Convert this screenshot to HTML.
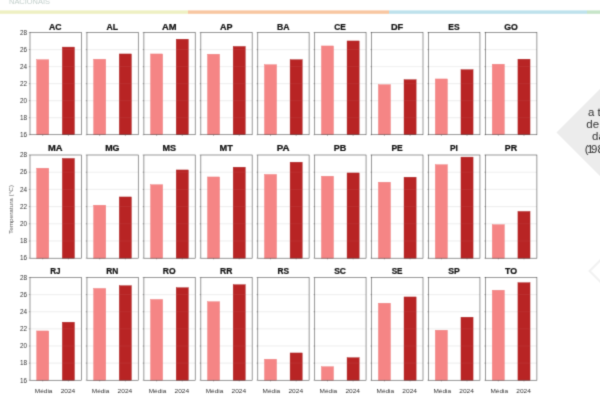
<!DOCTYPE html>
<html lang="pt-BR"><head><meta charset="utf-8"><title>Temperatura por estado</title>
<style>
html,body{margin:0;padding:0;background:#fff;}
body{width:600px;height:400px;overflow:hidden;position:relative;font-family:"Liberation Sans",sans-serif;}
svg{position:absolute;left:0;top:0;display:block;}
text{font-family:"Liberation Sans",sans-serif;}
.t{font-weight:bold;font-size:8.4px;fill:#111;text-anchor:middle;stroke:#111;stroke-width:0.22px;}
.k{font-size:6.4px;fill:#333;text-anchor:end;}
.x{font-size:6.0px;fill:#333;text-anchor:middle;}
</style></head><body>
<svg width="600" height="400" viewBox="0 0 600 400">
<defs><filter id="g" x="0" y="0" width="100%" height="100%" filterUnits="userSpaceOnUse" color-interpolation-filters="sRGB"><feConvolveMatrix order="3" kernelMatrix="0.01917 0.10012 0.01917 0.10012 0.52283 0.10012 0.01917 0.10012 0.01917" divisor="1" edgeMode="duplicate" preserveAlpha="true"/></filter><filter id="b" x="-5%" y="-200%" width="110%" height="500%"><feGaussianBlur stdDeviation="0.4"/></filter></defs>
<rect width="600" height="400" fill="#fff"/>
<g filter="url(#g)">
<rect x="-5" y="-5" width="610" height="410" fill="#fff"/>

<text x="9" y="3.7" font-size="6.6" fill="#c2cfcb" textLength="41" lengthAdjust="spacingAndGlyphs">NACIONAIS</text>
<g filter="url(#b)">
<rect x="0" y="10.4" width="188" height="3.4" fill="#eef0c2"/>
<rect x="188" y="10.4" width="201" height="3.4" fill="#f8c6a1"/>
<rect x="389" y="10.4" width="198" height="3.4" fill="#bde1ec"/>
<rect x="587" y="10.4" width="13" height="3.4" fill="#c6e4c8"/>
</g>
<polygon points="556.5,132.5 646.5,42.5 736.5,132.5 646.5,222.5" fill="#ececec"/>
<g font-size="10" fill="#333">
<text transform="translate(588,115.7) scale(1.15,1)">a temperatura</text>
<text transform="translate(586.3,127.9) scale(1.15,1)">de 2024 acima</text>
<text transform="translate(592,140.3) scale(1.15,1)">da média</text>
<text transform="translate(584.7,152.8) scale(1.15,1)" dx="0 -1.3 -2.1 0">(1981-2010)</text>
</g>
<polyline points="640,220.6 589.6,271 640,321.4" fill="none" stroke="#f1f1f1" stroke-width="2.1"/>
<text transform="translate(13.2,209.5) rotate(-90)" font-size="5.6" fill="#555" text-anchor="middle" textLength="49" lengthAdjust="spacingAndGlyphs">Temperatura (°C)</text>
<line x1="30.00" x2="81.30" y1="49.62" y2="49.62" stroke="#e7e7e7" stroke-width="0.7"/>
<line x1="30.00" x2="81.30" y1="66.65" y2="66.65" stroke="#e7e7e7" stroke-width="0.7"/>
<line x1="30.00" x2="81.30" y1="83.68" y2="83.68" stroke="#e7e7e7" stroke-width="0.7"/>
<line x1="30.00" x2="81.30" y1="100.70" y2="100.70" stroke="#e7e7e7" stroke-width="0.7"/>
<line x1="30.00" x2="81.30" y1="117.72" y2="117.72" stroke="#e7e7e7" stroke-width="0.7"/>
<rect x="36.68" y="59.70" width="12.10" height="75.05" fill="#f58585" stroke="#ec7a7a" stroke-width="0.4"/>
<rect x="62.33" y="47.10" width="12.10" height="87.65" fill="#b82424" stroke="#a81e1e" stroke-width="0.4"/>
<line x1="62.12" x2="74.62" y1="49.62" y2="49.62" stroke="#fff" stroke-opacity="0.08" stroke-width="0.7"/>
<line x1="62.12" x2="74.62" y1="66.65" y2="66.65" stroke="#fff" stroke-opacity="0.08" stroke-width="0.7"/>
<line x1="62.12" x2="74.62" y1="83.68" y2="83.68" stroke="#fff" stroke-opacity="0.08" stroke-width="0.7"/>
<line x1="62.12" x2="74.62" y1="100.70" y2="100.70" stroke="#fff" stroke-opacity="0.08" stroke-width="0.7"/>
<line x1="62.12" x2="74.62" y1="117.72" y2="117.72" stroke="#fff" stroke-opacity="0.08" stroke-width="0.7"/>
<line x1="28.80" x2="30.00" y1="32.60" y2="32.60" stroke="#444" stroke-width="0.4"/>
<line x1="28.80" x2="30.00" y1="49.62" y2="49.62" stroke="#444" stroke-width="0.4"/>
<line x1="28.80" x2="30.00" y1="66.65" y2="66.65" stroke="#444" stroke-width="0.4"/>
<line x1="28.80" x2="30.00" y1="83.68" y2="83.68" stroke="#444" stroke-width="0.4"/>
<line x1="28.80" x2="30.00" y1="100.70" y2="100.70" stroke="#444" stroke-width="0.4"/>
<line x1="28.80" x2="30.00" y1="117.72" y2="117.72" stroke="#444" stroke-width="0.4"/>
<line x1="28.80" x2="30.00" y1="134.75" y2="134.75" stroke="#444" stroke-width="0.4"/>
<line x1="42.73" x2="42.73" y1="134.75" y2="135.95" stroke="#444" stroke-width="0.4"/>
<line x1="68.38" x2="68.38" y1="134.75" y2="135.95" stroke="#444" stroke-width="0.4"/>
<rect x="30.00" y="32.60" width="51.30" height="102.15" fill="none" stroke="#484848" stroke-width="0.56"/>
<text class="t" x="55.35" y="29.70" textLength="12.55" lengthAdjust="spacingAndGlyphs">AC</text>
<text class="k" x="27.10" y="34.85">28</text>
<text class="k" x="27.10" y="51.88">26</text>
<text class="k" x="27.10" y="68.90">24</text>
<text class="k" x="27.10" y="85.93">22</text>
<text class="k" x="27.10" y="102.95">20</text>
<text class="k" x="27.10" y="119.97">18</text>
<text class="k" x="27.10" y="137.00">16</text>
<line x1="86.95" x2="138.25" y1="49.62" y2="49.62" stroke="#e7e7e7" stroke-width="0.7"/>
<line x1="86.95" x2="138.25" y1="66.65" y2="66.65" stroke="#e7e7e7" stroke-width="0.7"/>
<line x1="86.95" x2="138.25" y1="83.68" y2="83.68" stroke="#e7e7e7" stroke-width="0.7"/>
<line x1="86.95" x2="138.25" y1="100.70" y2="100.70" stroke="#e7e7e7" stroke-width="0.7"/>
<line x1="86.95" x2="138.25" y1="117.72" y2="117.72" stroke="#e7e7e7" stroke-width="0.7"/>
<rect x="93.63" y="59.20" width="12.10" height="75.55" fill="#f58585" stroke="#ec7a7a" stroke-width="0.4"/>
<rect x="119.28" y="53.95" width="12.10" height="80.80" fill="#b82424" stroke="#a81e1e" stroke-width="0.4"/>
<line x1="119.08" x2="131.57" y1="66.65" y2="66.65" stroke="#fff" stroke-opacity="0.08" stroke-width="0.7"/>
<line x1="119.08" x2="131.57" y1="83.68" y2="83.68" stroke="#fff" stroke-opacity="0.08" stroke-width="0.7"/>
<line x1="119.08" x2="131.57" y1="100.70" y2="100.70" stroke="#fff" stroke-opacity="0.08" stroke-width="0.7"/>
<line x1="119.08" x2="131.57" y1="117.72" y2="117.72" stroke="#fff" stroke-opacity="0.08" stroke-width="0.7"/>
<line x1="85.75" x2="86.95" y1="32.60" y2="32.60" stroke="#444" stroke-width="0.4"/>
<line x1="85.75" x2="86.95" y1="49.62" y2="49.62" stroke="#444" stroke-width="0.4"/>
<line x1="85.75" x2="86.95" y1="66.65" y2="66.65" stroke="#444" stroke-width="0.4"/>
<line x1="85.75" x2="86.95" y1="83.68" y2="83.68" stroke="#444" stroke-width="0.4"/>
<line x1="85.75" x2="86.95" y1="100.70" y2="100.70" stroke="#444" stroke-width="0.4"/>
<line x1="85.75" x2="86.95" y1="117.72" y2="117.72" stroke="#444" stroke-width="0.4"/>
<line x1="85.75" x2="86.95" y1="134.75" y2="134.75" stroke="#444" stroke-width="0.4"/>
<line x1="99.68" x2="99.68" y1="134.75" y2="135.95" stroke="#444" stroke-width="0.4"/>
<line x1="125.33" x2="125.33" y1="134.75" y2="135.95" stroke="#444" stroke-width="0.4"/>
<rect x="86.95" y="32.60" width="51.30" height="102.15" fill="none" stroke="#484848" stroke-width="0.56"/>
<text class="t" x="112.30" y="29.70" textLength="11.55" lengthAdjust="spacingAndGlyphs">AL</text>
<line x1="143.90" x2="195.20" y1="49.62" y2="49.62" stroke="#e7e7e7" stroke-width="0.7"/>
<line x1="143.90" x2="195.20" y1="66.65" y2="66.65" stroke="#e7e7e7" stroke-width="0.7"/>
<line x1="143.90" x2="195.20" y1="83.68" y2="83.68" stroke="#e7e7e7" stroke-width="0.7"/>
<line x1="143.90" x2="195.20" y1="100.70" y2="100.70" stroke="#e7e7e7" stroke-width="0.7"/>
<line x1="143.90" x2="195.20" y1="117.72" y2="117.72" stroke="#e7e7e7" stroke-width="0.7"/>
<rect x="150.57" y="53.95" width="12.10" height="80.80" fill="#f58585" stroke="#ec7a7a" stroke-width="0.4"/>
<rect x="176.22" y="39.20" width="12.10" height="95.55" fill="#b82424" stroke="#a81e1e" stroke-width="0.4"/>
<line x1="176.03" x2="188.53" y1="49.62" y2="49.62" stroke="#fff" stroke-opacity="0.08" stroke-width="0.7"/>
<line x1="176.03" x2="188.53" y1="66.65" y2="66.65" stroke="#fff" stroke-opacity="0.08" stroke-width="0.7"/>
<line x1="176.03" x2="188.53" y1="83.68" y2="83.68" stroke="#fff" stroke-opacity="0.08" stroke-width="0.7"/>
<line x1="176.03" x2="188.53" y1="100.70" y2="100.70" stroke="#fff" stroke-opacity="0.08" stroke-width="0.7"/>
<line x1="176.03" x2="188.53" y1="117.72" y2="117.72" stroke="#fff" stroke-opacity="0.08" stroke-width="0.7"/>
<line x1="142.70" x2="143.90" y1="32.60" y2="32.60" stroke="#444" stroke-width="0.4"/>
<line x1="142.70" x2="143.90" y1="49.62" y2="49.62" stroke="#444" stroke-width="0.4"/>
<line x1="142.70" x2="143.90" y1="66.65" y2="66.65" stroke="#444" stroke-width="0.4"/>
<line x1="142.70" x2="143.90" y1="83.68" y2="83.68" stroke="#444" stroke-width="0.4"/>
<line x1="142.70" x2="143.90" y1="100.70" y2="100.70" stroke="#444" stroke-width="0.4"/>
<line x1="142.70" x2="143.90" y1="117.72" y2="117.72" stroke="#444" stroke-width="0.4"/>
<line x1="142.70" x2="143.90" y1="134.75" y2="134.75" stroke="#444" stroke-width="0.4"/>
<line x1="156.62" x2="156.62" y1="134.75" y2="135.95" stroke="#444" stroke-width="0.4"/>
<line x1="182.28" x2="182.28" y1="134.75" y2="135.95" stroke="#444" stroke-width="0.4"/>
<rect x="143.90" y="32.60" width="51.30" height="102.15" fill="none" stroke="#484848" stroke-width="0.56"/>
<text class="t" x="169.25" y="29.70" textLength="14.55" lengthAdjust="spacingAndGlyphs">AM</text>
<line x1="200.85" x2="252.15" y1="49.62" y2="49.62" stroke="#e7e7e7" stroke-width="0.7"/>
<line x1="200.85" x2="252.15" y1="66.65" y2="66.65" stroke="#e7e7e7" stroke-width="0.7"/>
<line x1="200.85" x2="252.15" y1="83.68" y2="83.68" stroke="#e7e7e7" stroke-width="0.7"/>
<line x1="200.85" x2="252.15" y1="100.70" y2="100.70" stroke="#e7e7e7" stroke-width="0.7"/>
<line x1="200.85" x2="252.15" y1="117.72" y2="117.72" stroke="#e7e7e7" stroke-width="0.7"/>
<rect x="207.53" y="54.20" width="12.10" height="80.55" fill="#f58585" stroke="#ec7a7a" stroke-width="0.4"/>
<rect x="233.18" y="46.45" width="12.10" height="88.30" fill="#b82424" stroke="#a81e1e" stroke-width="0.4"/>
<line x1="232.98" x2="245.48" y1="49.62" y2="49.62" stroke="#fff" stroke-opacity="0.08" stroke-width="0.7"/>
<line x1="232.98" x2="245.48" y1="66.65" y2="66.65" stroke="#fff" stroke-opacity="0.08" stroke-width="0.7"/>
<line x1="232.98" x2="245.48" y1="83.68" y2="83.68" stroke="#fff" stroke-opacity="0.08" stroke-width="0.7"/>
<line x1="232.98" x2="245.48" y1="100.70" y2="100.70" stroke="#fff" stroke-opacity="0.08" stroke-width="0.7"/>
<line x1="232.98" x2="245.48" y1="117.72" y2="117.72" stroke="#fff" stroke-opacity="0.08" stroke-width="0.7"/>
<line x1="199.65" x2="200.85" y1="32.60" y2="32.60" stroke="#444" stroke-width="0.4"/>
<line x1="199.65" x2="200.85" y1="49.62" y2="49.62" stroke="#444" stroke-width="0.4"/>
<line x1="199.65" x2="200.85" y1="66.65" y2="66.65" stroke="#444" stroke-width="0.4"/>
<line x1="199.65" x2="200.85" y1="83.68" y2="83.68" stroke="#444" stroke-width="0.4"/>
<line x1="199.65" x2="200.85" y1="100.70" y2="100.70" stroke="#444" stroke-width="0.4"/>
<line x1="199.65" x2="200.85" y1="117.72" y2="117.72" stroke="#444" stroke-width="0.4"/>
<line x1="199.65" x2="200.85" y1="134.75" y2="134.75" stroke="#444" stroke-width="0.4"/>
<line x1="213.58" x2="213.58" y1="134.75" y2="135.95" stroke="#444" stroke-width="0.4"/>
<line x1="239.23" x2="239.23" y1="134.75" y2="135.95" stroke="#444" stroke-width="0.4"/>
<rect x="200.85" y="32.60" width="51.30" height="102.15" fill="none" stroke="#484848" stroke-width="0.56"/>
<text class="t" x="226.20" y="29.70" textLength="12.55" lengthAdjust="spacingAndGlyphs">AP</text>
<line x1="257.80" x2="309.10" y1="49.62" y2="49.62" stroke="#e7e7e7" stroke-width="0.7"/>
<line x1="257.80" x2="309.10" y1="66.65" y2="66.65" stroke="#e7e7e7" stroke-width="0.7"/>
<line x1="257.80" x2="309.10" y1="83.68" y2="83.68" stroke="#e7e7e7" stroke-width="0.7"/>
<line x1="257.80" x2="309.10" y1="100.70" y2="100.70" stroke="#e7e7e7" stroke-width="0.7"/>
<line x1="257.80" x2="309.10" y1="117.72" y2="117.72" stroke="#e7e7e7" stroke-width="0.7"/>
<rect x="264.47" y="64.70" width="12.10" height="70.05" fill="#f58585" stroke="#ec7a7a" stroke-width="0.4"/>
<rect x="290.12" y="59.70" width="12.10" height="75.05" fill="#b82424" stroke="#a81e1e" stroke-width="0.4"/>
<line x1="289.92" x2="302.42" y1="66.65" y2="66.65" stroke="#fff" stroke-opacity="0.08" stroke-width="0.7"/>
<line x1="289.92" x2="302.42" y1="83.68" y2="83.68" stroke="#fff" stroke-opacity="0.08" stroke-width="0.7"/>
<line x1="289.92" x2="302.42" y1="100.70" y2="100.70" stroke="#fff" stroke-opacity="0.08" stroke-width="0.7"/>
<line x1="289.92" x2="302.42" y1="117.72" y2="117.72" stroke="#fff" stroke-opacity="0.08" stroke-width="0.7"/>
<line x1="256.60" x2="257.80" y1="32.60" y2="32.60" stroke="#444" stroke-width="0.4"/>
<line x1="256.60" x2="257.80" y1="49.62" y2="49.62" stroke="#444" stroke-width="0.4"/>
<line x1="256.60" x2="257.80" y1="66.65" y2="66.65" stroke="#444" stroke-width="0.4"/>
<line x1="256.60" x2="257.80" y1="83.68" y2="83.68" stroke="#444" stroke-width="0.4"/>
<line x1="256.60" x2="257.80" y1="100.70" y2="100.70" stroke="#444" stroke-width="0.4"/>
<line x1="256.60" x2="257.80" y1="117.72" y2="117.72" stroke="#444" stroke-width="0.4"/>
<line x1="256.60" x2="257.80" y1="134.75" y2="134.75" stroke="#444" stroke-width="0.4"/>
<line x1="270.52" x2="270.52" y1="134.75" y2="135.95" stroke="#444" stroke-width="0.4"/>
<line x1="296.17" x2="296.17" y1="134.75" y2="135.95" stroke="#444" stroke-width="0.4"/>
<rect x="257.80" y="32.60" width="51.30" height="102.15" fill="none" stroke="#484848" stroke-width="0.56"/>
<text class="t" x="283.15" y="29.70" textLength="12.55" lengthAdjust="spacingAndGlyphs">BA</text>
<line x1="314.75" x2="366.05" y1="49.62" y2="49.62" stroke="#e7e7e7" stroke-width="0.7"/>
<line x1="314.75" x2="366.05" y1="66.65" y2="66.65" stroke="#e7e7e7" stroke-width="0.7"/>
<line x1="314.75" x2="366.05" y1="83.68" y2="83.68" stroke="#e7e7e7" stroke-width="0.7"/>
<line x1="314.75" x2="366.05" y1="100.70" y2="100.70" stroke="#e7e7e7" stroke-width="0.7"/>
<line x1="314.75" x2="366.05" y1="117.72" y2="117.72" stroke="#e7e7e7" stroke-width="0.7"/>
<rect x="321.42" y="45.95" width="12.10" height="88.80" fill="#f58585" stroke="#ec7a7a" stroke-width="0.4"/>
<rect x="347.07" y="40.95" width="12.10" height="93.80" fill="#b82424" stroke="#a81e1e" stroke-width="0.4"/>
<line x1="346.88" x2="359.38" y1="49.62" y2="49.62" stroke="#fff" stroke-opacity="0.08" stroke-width="0.7"/>
<line x1="346.88" x2="359.38" y1="66.65" y2="66.65" stroke="#fff" stroke-opacity="0.08" stroke-width="0.7"/>
<line x1="346.88" x2="359.38" y1="83.68" y2="83.68" stroke="#fff" stroke-opacity="0.08" stroke-width="0.7"/>
<line x1="346.88" x2="359.38" y1="100.70" y2="100.70" stroke="#fff" stroke-opacity="0.08" stroke-width="0.7"/>
<line x1="346.88" x2="359.38" y1="117.72" y2="117.72" stroke="#fff" stroke-opacity="0.08" stroke-width="0.7"/>
<line x1="313.55" x2="314.75" y1="32.60" y2="32.60" stroke="#444" stroke-width="0.4"/>
<line x1="313.55" x2="314.75" y1="49.62" y2="49.62" stroke="#444" stroke-width="0.4"/>
<line x1="313.55" x2="314.75" y1="66.65" y2="66.65" stroke="#444" stroke-width="0.4"/>
<line x1="313.55" x2="314.75" y1="83.68" y2="83.68" stroke="#444" stroke-width="0.4"/>
<line x1="313.55" x2="314.75" y1="100.70" y2="100.70" stroke="#444" stroke-width="0.4"/>
<line x1="313.55" x2="314.75" y1="117.72" y2="117.72" stroke="#444" stroke-width="0.4"/>
<line x1="313.55" x2="314.75" y1="134.75" y2="134.75" stroke="#444" stroke-width="0.4"/>
<line x1="327.47" x2="327.47" y1="134.75" y2="135.95" stroke="#444" stroke-width="0.4"/>
<line x1="353.12" x2="353.12" y1="134.75" y2="135.95" stroke="#444" stroke-width="0.4"/>
<rect x="314.75" y="32.60" width="51.30" height="102.15" fill="none" stroke="#484848" stroke-width="0.56"/>
<text class="t" x="340.10" y="29.70" textLength="11.55" lengthAdjust="spacingAndGlyphs">CE</text>
<line x1="371.70" x2="423.00" y1="49.62" y2="49.62" stroke="#e7e7e7" stroke-width="0.7"/>
<line x1="371.70" x2="423.00" y1="66.65" y2="66.65" stroke="#e7e7e7" stroke-width="0.7"/>
<line x1="371.70" x2="423.00" y1="83.68" y2="83.68" stroke="#e7e7e7" stroke-width="0.7"/>
<line x1="371.70" x2="423.00" y1="100.70" y2="100.70" stroke="#e7e7e7" stroke-width="0.7"/>
<line x1="371.70" x2="423.00" y1="117.72" y2="117.72" stroke="#e7e7e7" stroke-width="0.7"/>
<rect x="378.38" y="84.70" width="12.10" height="50.05" fill="#f58585" stroke="#ec7a7a" stroke-width="0.4"/>
<rect x="404.03" y="79.70" width="12.10" height="55.05" fill="#b82424" stroke="#a81e1e" stroke-width="0.4"/>
<line x1="403.83" x2="416.33" y1="83.68" y2="83.68" stroke="#fff" stroke-opacity="0.08" stroke-width="0.7"/>
<line x1="403.83" x2="416.33" y1="100.70" y2="100.70" stroke="#fff" stroke-opacity="0.08" stroke-width="0.7"/>
<line x1="403.83" x2="416.33" y1="117.72" y2="117.72" stroke="#fff" stroke-opacity="0.08" stroke-width="0.7"/>
<line x1="370.50" x2="371.70" y1="32.60" y2="32.60" stroke="#444" stroke-width="0.4"/>
<line x1="370.50" x2="371.70" y1="49.62" y2="49.62" stroke="#444" stroke-width="0.4"/>
<line x1="370.50" x2="371.70" y1="66.65" y2="66.65" stroke="#444" stroke-width="0.4"/>
<line x1="370.50" x2="371.70" y1="83.68" y2="83.68" stroke="#444" stroke-width="0.4"/>
<line x1="370.50" x2="371.70" y1="100.70" y2="100.70" stroke="#444" stroke-width="0.4"/>
<line x1="370.50" x2="371.70" y1="117.72" y2="117.72" stroke="#444" stroke-width="0.4"/>
<line x1="370.50" x2="371.70" y1="134.75" y2="134.75" stroke="#444" stroke-width="0.4"/>
<line x1="384.43" x2="384.43" y1="134.75" y2="135.95" stroke="#444" stroke-width="0.4"/>
<line x1="410.08" x2="410.08" y1="134.75" y2="135.95" stroke="#444" stroke-width="0.4"/>
<rect x="371.70" y="32.60" width="51.30" height="102.15" fill="none" stroke="#484848" stroke-width="0.56"/>
<text class="t" x="397.05" y="29.70" textLength="12.30" lengthAdjust="spacingAndGlyphs">DF</text>
<line x1="428.65" x2="479.95" y1="49.62" y2="49.62" stroke="#e7e7e7" stroke-width="0.7"/>
<line x1="428.65" x2="479.95" y1="66.65" y2="66.65" stroke="#e7e7e7" stroke-width="0.7"/>
<line x1="428.65" x2="479.95" y1="83.68" y2="83.68" stroke="#e7e7e7" stroke-width="0.7"/>
<line x1="428.65" x2="479.95" y1="100.70" y2="100.70" stroke="#e7e7e7" stroke-width="0.7"/>
<line x1="428.65" x2="479.95" y1="117.72" y2="117.72" stroke="#e7e7e7" stroke-width="0.7"/>
<rect x="435.32" y="78.95" width="12.10" height="55.80" fill="#f58585" stroke="#ec7a7a" stroke-width="0.4"/>
<rect x="460.97" y="69.70" width="12.10" height="65.05" fill="#b82424" stroke="#a81e1e" stroke-width="0.4"/>
<line x1="460.77" x2="473.27" y1="83.68" y2="83.68" stroke="#fff" stroke-opacity="0.08" stroke-width="0.7"/>
<line x1="460.77" x2="473.27" y1="100.70" y2="100.70" stroke="#fff" stroke-opacity="0.08" stroke-width="0.7"/>
<line x1="460.77" x2="473.27" y1="117.72" y2="117.72" stroke="#fff" stroke-opacity="0.08" stroke-width="0.7"/>
<line x1="427.45" x2="428.65" y1="32.60" y2="32.60" stroke="#444" stroke-width="0.4"/>
<line x1="427.45" x2="428.65" y1="49.62" y2="49.62" stroke="#444" stroke-width="0.4"/>
<line x1="427.45" x2="428.65" y1="66.65" y2="66.65" stroke="#444" stroke-width="0.4"/>
<line x1="427.45" x2="428.65" y1="83.68" y2="83.68" stroke="#444" stroke-width="0.4"/>
<line x1="427.45" x2="428.65" y1="100.70" y2="100.70" stroke="#444" stroke-width="0.4"/>
<line x1="427.45" x2="428.65" y1="117.72" y2="117.72" stroke="#444" stroke-width="0.4"/>
<line x1="427.45" x2="428.65" y1="134.75" y2="134.75" stroke="#444" stroke-width="0.4"/>
<line x1="441.38" x2="441.38" y1="134.75" y2="135.95" stroke="#444" stroke-width="0.4"/>
<line x1="467.02" x2="467.02" y1="134.75" y2="135.95" stroke="#444" stroke-width="0.4"/>
<rect x="428.65" y="32.60" width="51.30" height="102.15" fill="none" stroke="#484848" stroke-width="0.56"/>
<text class="t" x="454.00" y="29.70" textLength="11.30" lengthAdjust="spacingAndGlyphs">ES</text>
<line x1="485.60" x2="536.90" y1="49.62" y2="49.62" stroke="#e7e7e7" stroke-width="0.7"/>
<line x1="485.60" x2="536.90" y1="66.65" y2="66.65" stroke="#e7e7e7" stroke-width="0.7"/>
<line x1="485.60" x2="536.90" y1="83.68" y2="83.68" stroke="#e7e7e7" stroke-width="0.7"/>
<line x1="485.60" x2="536.90" y1="100.70" y2="100.70" stroke="#e7e7e7" stroke-width="0.7"/>
<line x1="485.60" x2="536.90" y1="117.72" y2="117.72" stroke="#e7e7e7" stroke-width="0.7"/>
<rect x="492.27" y="64.20" width="12.10" height="70.55" fill="#f58585" stroke="#ec7a7a" stroke-width="0.4"/>
<rect x="517.93" y="59.20" width="12.10" height="75.55" fill="#b82424" stroke="#a81e1e" stroke-width="0.4"/>
<line x1="517.73" x2="530.23" y1="66.65" y2="66.65" stroke="#fff" stroke-opacity="0.08" stroke-width="0.7"/>
<line x1="517.73" x2="530.23" y1="83.68" y2="83.68" stroke="#fff" stroke-opacity="0.08" stroke-width="0.7"/>
<line x1="517.73" x2="530.23" y1="100.70" y2="100.70" stroke="#fff" stroke-opacity="0.08" stroke-width="0.7"/>
<line x1="517.73" x2="530.23" y1="117.72" y2="117.72" stroke="#fff" stroke-opacity="0.08" stroke-width="0.7"/>
<line x1="484.40" x2="485.60" y1="32.60" y2="32.60" stroke="#444" stroke-width="0.4"/>
<line x1="484.40" x2="485.60" y1="49.62" y2="49.62" stroke="#444" stroke-width="0.4"/>
<line x1="484.40" x2="485.60" y1="66.65" y2="66.65" stroke="#444" stroke-width="0.4"/>
<line x1="484.40" x2="485.60" y1="83.68" y2="83.68" stroke="#444" stroke-width="0.4"/>
<line x1="484.40" x2="485.60" y1="100.70" y2="100.70" stroke="#444" stroke-width="0.4"/>
<line x1="484.40" x2="485.60" y1="117.72" y2="117.72" stroke="#444" stroke-width="0.4"/>
<line x1="484.40" x2="485.60" y1="134.75" y2="134.75" stroke="#444" stroke-width="0.4"/>
<line x1="498.32" x2="498.32" y1="134.75" y2="135.95" stroke="#444" stroke-width="0.4"/>
<line x1="523.98" x2="523.98" y1="134.75" y2="135.95" stroke="#444" stroke-width="0.4"/>
<rect x="485.60" y="32.60" width="51.30" height="102.15" fill="none" stroke="#484848" stroke-width="0.56"/>
<text class="t" x="510.95" y="29.70" textLength="13.55" lengthAdjust="spacingAndGlyphs">GO</text>
<line x1="30.00" x2="81.30" y1="172.20" y2="172.20" stroke="#e7e7e7" stroke-width="0.7"/>
<line x1="30.00" x2="81.30" y1="189.40" y2="189.40" stroke="#e7e7e7" stroke-width="0.7"/>
<line x1="30.00" x2="81.30" y1="206.60" y2="206.60" stroke="#e7e7e7" stroke-width="0.7"/>
<line x1="30.00" x2="81.30" y1="223.80" y2="223.80" stroke="#e7e7e7" stroke-width="0.7"/>
<line x1="30.00" x2="81.30" y1="241.00" y2="241.00" stroke="#e7e7e7" stroke-width="0.7"/>
<rect x="36.68" y="168.20" width="12.10" height="90.00" fill="#f58585" stroke="#ec7a7a" stroke-width="0.4"/>
<rect x="62.33" y="158.45" width="12.10" height="99.75" fill="#b82424" stroke="#a81e1e" stroke-width="0.4"/>
<line x1="62.12" x2="74.62" y1="172.20" y2="172.20" stroke="#fff" stroke-opacity="0.08" stroke-width="0.7"/>
<line x1="62.12" x2="74.62" y1="189.40" y2="189.40" stroke="#fff" stroke-opacity="0.08" stroke-width="0.7"/>
<line x1="62.12" x2="74.62" y1="206.60" y2="206.60" stroke="#fff" stroke-opacity="0.08" stroke-width="0.7"/>
<line x1="62.12" x2="74.62" y1="223.80" y2="223.80" stroke="#fff" stroke-opacity="0.08" stroke-width="0.7"/>
<line x1="62.12" x2="74.62" y1="241.00" y2="241.00" stroke="#fff" stroke-opacity="0.08" stroke-width="0.7"/>
<line x1="28.80" x2="30.00" y1="155.00" y2="155.00" stroke="#444" stroke-width="0.4"/>
<line x1="28.80" x2="30.00" y1="172.20" y2="172.20" stroke="#444" stroke-width="0.4"/>
<line x1="28.80" x2="30.00" y1="189.40" y2="189.40" stroke="#444" stroke-width="0.4"/>
<line x1="28.80" x2="30.00" y1="206.60" y2="206.60" stroke="#444" stroke-width="0.4"/>
<line x1="28.80" x2="30.00" y1="223.80" y2="223.80" stroke="#444" stroke-width="0.4"/>
<line x1="28.80" x2="30.00" y1="241.00" y2="241.00" stroke="#444" stroke-width="0.4"/>
<line x1="28.80" x2="30.00" y1="258.20" y2="258.20" stroke="#444" stroke-width="0.4"/>
<line x1="42.73" x2="42.73" y1="258.20" y2="259.40" stroke="#444" stroke-width="0.4"/>
<line x1="68.38" x2="68.38" y1="258.20" y2="259.40" stroke="#444" stroke-width="0.4"/>
<rect x="30.00" y="155.00" width="51.30" height="103.20" fill="none" stroke="#484848" stroke-width="0.56"/>
<text class="t" x="55.35" y="150.80" textLength="14.55" lengthAdjust="spacingAndGlyphs">MA</text>
<text class="k" x="27.10" y="157.25">28</text>
<text class="k" x="27.10" y="174.45">26</text>
<text class="k" x="27.10" y="191.65">24</text>
<text class="k" x="27.10" y="208.85">22</text>
<text class="k" x="27.10" y="226.05">20</text>
<text class="k" x="27.10" y="243.25">18</text>
<text class="k" x="27.10" y="260.45">16</text>
<line x1="86.95" x2="138.25" y1="172.20" y2="172.20" stroke="#e7e7e7" stroke-width="0.7"/>
<line x1="86.95" x2="138.25" y1="189.40" y2="189.40" stroke="#e7e7e7" stroke-width="0.7"/>
<line x1="86.95" x2="138.25" y1="206.60" y2="206.60" stroke="#e7e7e7" stroke-width="0.7"/>
<line x1="86.95" x2="138.25" y1="223.80" y2="223.80" stroke="#e7e7e7" stroke-width="0.7"/>
<line x1="86.95" x2="138.25" y1="241.00" y2="241.00" stroke="#e7e7e7" stroke-width="0.7"/>
<rect x="93.63" y="205.20" width="12.10" height="53.00" fill="#f58585" stroke="#ec7a7a" stroke-width="0.4"/>
<rect x="119.28" y="196.95" width="12.10" height="61.25" fill="#b82424" stroke="#a81e1e" stroke-width="0.4"/>
<line x1="119.08" x2="131.57" y1="206.60" y2="206.60" stroke="#fff" stroke-opacity="0.08" stroke-width="0.7"/>
<line x1="119.08" x2="131.57" y1="223.80" y2="223.80" stroke="#fff" stroke-opacity="0.08" stroke-width="0.7"/>
<line x1="119.08" x2="131.57" y1="241.00" y2="241.00" stroke="#fff" stroke-opacity="0.08" stroke-width="0.7"/>
<line x1="85.75" x2="86.95" y1="155.00" y2="155.00" stroke="#444" stroke-width="0.4"/>
<line x1="85.75" x2="86.95" y1="172.20" y2="172.20" stroke="#444" stroke-width="0.4"/>
<line x1="85.75" x2="86.95" y1="189.40" y2="189.40" stroke="#444" stroke-width="0.4"/>
<line x1="85.75" x2="86.95" y1="206.60" y2="206.60" stroke="#444" stroke-width="0.4"/>
<line x1="85.75" x2="86.95" y1="223.80" y2="223.80" stroke="#444" stroke-width="0.4"/>
<line x1="85.75" x2="86.95" y1="241.00" y2="241.00" stroke="#444" stroke-width="0.4"/>
<line x1="85.75" x2="86.95" y1="258.20" y2="258.20" stroke="#444" stroke-width="0.4"/>
<line x1="99.68" x2="99.68" y1="258.20" y2="259.40" stroke="#444" stroke-width="0.4"/>
<line x1="125.33" x2="125.33" y1="258.20" y2="259.40" stroke="#444" stroke-width="0.4"/>
<rect x="86.95" y="155.00" width="51.30" height="103.20" fill="none" stroke="#484848" stroke-width="0.56"/>
<text class="t" x="112.30" y="150.80" textLength="14.30" lengthAdjust="spacingAndGlyphs">MG</text>
<line x1="143.90" x2="195.20" y1="172.20" y2="172.20" stroke="#e7e7e7" stroke-width="0.7"/>
<line x1="143.90" x2="195.20" y1="189.40" y2="189.40" stroke="#e7e7e7" stroke-width="0.7"/>
<line x1="143.90" x2="195.20" y1="206.60" y2="206.60" stroke="#e7e7e7" stroke-width="0.7"/>
<line x1="143.90" x2="195.20" y1="223.80" y2="223.80" stroke="#e7e7e7" stroke-width="0.7"/>
<line x1="143.90" x2="195.20" y1="241.00" y2="241.00" stroke="#e7e7e7" stroke-width="0.7"/>
<rect x="150.57" y="184.70" width="12.10" height="73.50" fill="#f58585" stroke="#ec7a7a" stroke-width="0.4"/>
<rect x="176.22" y="169.95" width="12.10" height="88.25" fill="#b82424" stroke="#a81e1e" stroke-width="0.4"/>
<line x1="176.03" x2="188.53" y1="172.20" y2="172.20" stroke="#fff" stroke-opacity="0.08" stroke-width="0.7"/>
<line x1="176.03" x2="188.53" y1="189.40" y2="189.40" stroke="#fff" stroke-opacity="0.08" stroke-width="0.7"/>
<line x1="176.03" x2="188.53" y1="206.60" y2="206.60" stroke="#fff" stroke-opacity="0.08" stroke-width="0.7"/>
<line x1="176.03" x2="188.53" y1="223.80" y2="223.80" stroke="#fff" stroke-opacity="0.08" stroke-width="0.7"/>
<line x1="176.03" x2="188.53" y1="241.00" y2="241.00" stroke="#fff" stroke-opacity="0.08" stroke-width="0.7"/>
<line x1="142.70" x2="143.90" y1="155.00" y2="155.00" stroke="#444" stroke-width="0.4"/>
<line x1="142.70" x2="143.90" y1="172.20" y2="172.20" stroke="#444" stroke-width="0.4"/>
<line x1="142.70" x2="143.90" y1="189.40" y2="189.40" stroke="#444" stroke-width="0.4"/>
<line x1="142.70" x2="143.90" y1="206.60" y2="206.60" stroke="#444" stroke-width="0.4"/>
<line x1="142.70" x2="143.90" y1="223.80" y2="223.80" stroke="#444" stroke-width="0.4"/>
<line x1="142.70" x2="143.90" y1="241.00" y2="241.00" stroke="#444" stroke-width="0.4"/>
<line x1="142.70" x2="143.90" y1="258.20" y2="258.20" stroke="#444" stroke-width="0.4"/>
<line x1="156.62" x2="156.62" y1="258.20" y2="259.40" stroke="#444" stroke-width="0.4"/>
<line x1="182.28" x2="182.28" y1="258.20" y2="259.40" stroke="#444" stroke-width="0.4"/>
<rect x="143.90" y="155.00" width="51.30" height="103.20" fill="none" stroke="#484848" stroke-width="0.56"/>
<text class="t" x="169.25" y="150.80" textLength="13.55" lengthAdjust="spacingAndGlyphs">MS</text>
<line x1="200.85" x2="252.15" y1="172.20" y2="172.20" stroke="#e7e7e7" stroke-width="0.7"/>
<line x1="200.85" x2="252.15" y1="189.40" y2="189.40" stroke="#e7e7e7" stroke-width="0.7"/>
<line x1="200.85" x2="252.15" y1="206.60" y2="206.60" stroke="#e7e7e7" stroke-width="0.7"/>
<line x1="200.85" x2="252.15" y1="223.80" y2="223.80" stroke="#e7e7e7" stroke-width="0.7"/>
<line x1="200.85" x2="252.15" y1="241.00" y2="241.00" stroke="#e7e7e7" stroke-width="0.7"/>
<rect x="207.53" y="176.95" width="12.10" height="81.25" fill="#f58585" stroke="#ec7a7a" stroke-width="0.4"/>
<rect x="233.18" y="167.20" width="12.10" height="91.00" fill="#b82424" stroke="#a81e1e" stroke-width="0.4"/>
<line x1="232.98" x2="245.48" y1="172.20" y2="172.20" stroke="#fff" stroke-opacity="0.08" stroke-width="0.7"/>
<line x1="232.98" x2="245.48" y1="189.40" y2="189.40" stroke="#fff" stroke-opacity="0.08" stroke-width="0.7"/>
<line x1="232.98" x2="245.48" y1="206.60" y2="206.60" stroke="#fff" stroke-opacity="0.08" stroke-width="0.7"/>
<line x1="232.98" x2="245.48" y1="223.80" y2="223.80" stroke="#fff" stroke-opacity="0.08" stroke-width="0.7"/>
<line x1="232.98" x2="245.48" y1="241.00" y2="241.00" stroke="#fff" stroke-opacity="0.08" stroke-width="0.7"/>
<line x1="199.65" x2="200.85" y1="155.00" y2="155.00" stroke="#444" stroke-width="0.4"/>
<line x1="199.65" x2="200.85" y1="172.20" y2="172.20" stroke="#444" stroke-width="0.4"/>
<line x1="199.65" x2="200.85" y1="189.40" y2="189.40" stroke="#444" stroke-width="0.4"/>
<line x1="199.65" x2="200.85" y1="206.60" y2="206.60" stroke="#444" stroke-width="0.4"/>
<line x1="199.65" x2="200.85" y1="223.80" y2="223.80" stroke="#444" stroke-width="0.4"/>
<line x1="199.65" x2="200.85" y1="241.00" y2="241.00" stroke="#444" stroke-width="0.4"/>
<line x1="199.65" x2="200.85" y1="258.20" y2="258.20" stroke="#444" stroke-width="0.4"/>
<line x1="213.58" x2="213.58" y1="258.20" y2="259.40" stroke="#444" stroke-width="0.4"/>
<line x1="239.23" x2="239.23" y1="258.20" y2="259.40" stroke="#444" stroke-width="0.4"/>
<rect x="200.85" y="155.00" width="51.30" height="103.20" fill="none" stroke="#484848" stroke-width="0.56"/>
<text class="t" x="226.20" y="150.80" textLength="13.30" lengthAdjust="spacingAndGlyphs">MT</text>
<line x1="257.80" x2="309.10" y1="172.20" y2="172.20" stroke="#e7e7e7" stroke-width="0.7"/>
<line x1="257.80" x2="309.10" y1="189.40" y2="189.40" stroke="#e7e7e7" stroke-width="0.7"/>
<line x1="257.80" x2="309.10" y1="206.60" y2="206.60" stroke="#e7e7e7" stroke-width="0.7"/>
<line x1="257.80" x2="309.10" y1="223.80" y2="223.80" stroke="#e7e7e7" stroke-width="0.7"/>
<line x1="257.80" x2="309.10" y1="241.00" y2="241.00" stroke="#e7e7e7" stroke-width="0.7"/>
<rect x="264.47" y="174.45" width="12.10" height="83.75" fill="#f58585" stroke="#ec7a7a" stroke-width="0.4"/>
<rect x="290.12" y="162.20" width="12.10" height="96.00" fill="#b82424" stroke="#a81e1e" stroke-width="0.4"/>
<line x1="289.92" x2="302.42" y1="172.20" y2="172.20" stroke="#fff" stroke-opacity="0.08" stroke-width="0.7"/>
<line x1="289.92" x2="302.42" y1="189.40" y2="189.40" stroke="#fff" stroke-opacity="0.08" stroke-width="0.7"/>
<line x1="289.92" x2="302.42" y1="206.60" y2="206.60" stroke="#fff" stroke-opacity="0.08" stroke-width="0.7"/>
<line x1="289.92" x2="302.42" y1="223.80" y2="223.80" stroke="#fff" stroke-opacity="0.08" stroke-width="0.7"/>
<line x1="289.92" x2="302.42" y1="241.00" y2="241.00" stroke="#fff" stroke-opacity="0.08" stroke-width="0.7"/>
<line x1="256.60" x2="257.80" y1="155.00" y2="155.00" stroke="#444" stroke-width="0.4"/>
<line x1="256.60" x2="257.80" y1="172.20" y2="172.20" stroke="#444" stroke-width="0.4"/>
<line x1="256.60" x2="257.80" y1="189.40" y2="189.40" stroke="#444" stroke-width="0.4"/>
<line x1="256.60" x2="257.80" y1="206.60" y2="206.60" stroke="#444" stroke-width="0.4"/>
<line x1="256.60" x2="257.80" y1="223.80" y2="223.80" stroke="#444" stroke-width="0.4"/>
<line x1="256.60" x2="257.80" y1="241.00" y2="241.00" stroke="#444" stroke-width="0.4"/>
<line x1="256.60" x2="257.80" y1="258.20" y2="258.20" stroke="#444" stroke-width="0.4"/>
<line x1="270.52" x2="270.52" y1="258.20" y2="259.40" stroke="#444" stroke-width="0.4"/>
<line x1="296.17" x2="296.17" y1="258.20" y2="259.40" stroke="#444" stroke-width="0.4"/>
<rect x="257.80" y="155.00" width="51.30" height="103.20" fill="none" stroke="#484848" stroke-width="0.56"/>
<text class="t" x="283.15" y="150.80" textLength="12.80" lengthAdjust="spacingAndGlyphs">PA</text>
<line x1="314.75" x2="366.05" y1="172.20" y2="172.20" stroke="#e7e7e7" stroke-width="0.7"/>
<line x1="314.75" x2="366.05" y1="189.40" y2="189.40" stroke="#e7e7e7" stroke-width="0.7"/>
<line x1="314.75" x2="366.05" y1="206.60" y2="206.60" stroke="#e7e7e7" stroke-width="0.7"/>
<line x1="314.75" x2="366.05" y1="223.80" y2="223.80" stroke="#e7e7e7" stroke-width="0.7"/>
<line x1="314.75" x2="366.05" y1="241.00" y2="241.00" stroke="#e7e7e7" stroke-width="0.7"/>
<rect x="321.42" y="176.20" width="12.10" height="82.00" fill="#f58585" stroke="#ec7a7a" stroke-width="0.4"/>
<rect x="347.07" y="172.95" width="12.10" height="85.25" fill="#b82424" stroke="#a81e1e" stroke-width="0.4"/>
<line x1="346.88" x2="359.38" y1="189.40" y2="189.40" stroke="#fff" stroke-opacity="0.08" stroke-width="0.7"/>
<line x1="346.88" x2="359.38" y1="206.60" y2="206.60" stroke="#fff" stroke-opacity="0.08" stroke-width="0.7"/>
<line x1="346.88" x2="359.38" y1="223.80" y2="223.80" stroke="#fff" stroke-opacity="0.08" stroke-width="0.7"/>
<line x1="346.88" x2="359.38" y1="241.00" y2="241.00" stroke="#fff" stroke-opacity="0.08" stroke-width="0.7"/>
<line x1="313.55" x2="314.75" y1="155.00" y2="155.00" stroke="#444" stroke-width="0.4"/>
<line x1="313.55" x2="314.75" y1="172.20" y2="172.20" stroke="#444" stroke-width="0.4"/>
<line x1="313.55" x2="314.75" y1="189.40" y2="189.40" stroke="#444" stroke-width="0.4"/>
<line x1="313.55" x2="314.75" y1="206.60" y2="206.60" stroke="#444" stroke-width="0.4"/>
<line x1="313.55" x2="314.75" y1="223.80" y2="223.80" stroke="#444" stroke-width="0.4"/>
<line x1="313.55" x2="314.75" y1="241.00" y2="241.00" stroke="#444" stroke-width="0.4"/>
<line x1="313.55" x2="314.75" y1="258.20" y2="258.20" stroke="#444" stroke-width="0.4"/>
<line x1="327.47" x2="327.47" y1="258.20" y2="259.40" stroke="#444" stroke-width="0.4"/>
<line x1="353.12" x2="353.12" y1="258.20" y2="259.40" stroke="#444" stroke-width="0.4"/>
<rect x="314.75" y="155.00" width="51.30" height="103.20" fill="none" stroke="#484848" stroke-width="0.56"/>
<text class="t" x="340.10" y="150.80" textLength="12.55" lengthAdjust="spacingAndGlyphs">PB</text>
<line x1="371.70" x2="423.00" y1="172.20" y2="172.20" stroke="#e7e7e7" stroke-width="0.7"/>
<line x1="371.70" x2="423.00" y1="189.40" y2="189.40" stroke="#e7e7e7" stroke-width="0.7"/>
<line x1="371.70" x2="423.00" y1="206.60" y2="206.60" stroke="#e7e7e7" stroke-width="0.7"/>
<line x1="371.70" x2="423.00" y1="223.80" y2="223.80" stroke="#e7e7e7" stroke-width="0.7"/>
<line x1="371.70" x2="423.00" y1="241.00" y2="241.00" stroke="#e7e7e7" stroke-width="0.7"/>
<rect x="378.38" y="182.20" width="12.10" height="76.00" fill="#f58585" stroke="#ec7a7a" stroke-width="0.4"/>
<rect x="404.03" y="177.20" width="12.10" height="81.00" fill="#b82424" stroke="#a81e1e" stroke-width="0.4"/>
<line x1="403.83" x2="416.33" y1="189.40" y2="189.40" stroke="#fff" stroke-opacity="0.08" stroke-width="0.7"/>
<line x1="403.83" x2="416.33" y1="206.60" y2="206.60" stroke="#fff" stroke-opacity="0.08" stroke-width="0.7"/>
<line x1="403.83" x2="416.33" y1="223.80" y2="223.80" stroke="#fff" stroke-opacity="0.08" stroke-width="0.7"/>
<line x1="403.83" x2="416.33" y1="241.00" y2="241.00" stroke="#fff" stroke-opacity="0.08" stroke-width="0.7"/>
<line x1="370.50" x2="371.70" y1="155.00" y2="155.00" stroke="#444" stroke-width="0.4"/>
<line x1="370.50" x2="371.70" y1="172.20" y2="172.20" stroke="#444" stroke-width="0.4"/>
<line x1="370.50" x2="371.70" y1="189.40" y2="189.40" stroke="#444" stroke-width="0.4"/>
<line x1="370.50" x2="371.70" y1="206.60" y2="206.60" stroke="#444" stroke-width="0.4"/>
<line x1="370.50" x2="371.70" y1="223.80" y2="223.80" stroke="#444" stroke-width="0.4"/>
<line x1="370.50" x2="371.70" y1="241.00" y2="241.00" stroke="#444" stroke-width="0.4"/>
<line x1="370.50" x2="371.70" y1="258.20" y2="258.20" stroke="#444" stroke-width="0.4"/>
<line x1="384.43" x2="384.43" y1="258.20" y2="259.40" stroke="#444" stroke-width="0.4"/>
<line x1="410.08" x2="410.08" y1="258.20" y2="259.40" stroke="#444" stroke-width="0.4"/>
<rect x="371.70" y="155.00" width="51.30" height="103.20" fill="none" stroke="#484848" stroke-width="0.56"/>
<text class="t" x="397.05" y="150.80" textLength="11.30" lengthAdjust="spacingAndGlyphs">PE</text>
<line x1="428.65" x2="479.95" y1="172.20" y2="172.20" stroke="#e7e7e7" stroke-width="0.7"/>
<line x1="428.65" x2="479.95" y1="189.40" y2="189.40" stroke="#e7e7e7" stroke-width="0.7"/>
<line x1="428.65" x2="479.95" y1="206.60" y2="206.60" stroke="#e7e7e7" stroke-width="0.7"/>
<line x1="428.65" x2="479.95" y1="223.80" y2="223.80" stroke="#e7e7e7" stroke-width="0.7"/>
<line x1="428.65" x2="479.95" y1="241.00" y2="241.00" stroke="#e7e7e7" stroke-width="0.7"/>
<rect x="435.32" y="164.70" width="12.10" height="93.50" fill="#f58585" stroke="#ec7a7a" stroke-width="0.4"/>
<rect x="460.97" y="157.10" width="12.10" height="101.10" fill="#b82424" stroke="#a81e1e" stroke-width="0.4"/>
<line x1="460.77" x2="473.27" y1="172.20" y2="172.20" stroke="#fff" stroke-opacity="0.08" stroke-width="0.7"/>
<line x1="460.77" x2="473.27" y1="189.40" y2="189.40" stroke="#fff" stroke-opacity="0.08" stroke-width="0.7"/>
<line x1="460.77" x2="473.27" y1="206.60" y2="206.60" stroke="#fff" stroke-opacity="0.08" stroke-width="0.7"/>
<line x1="460.77" x2="473.27" y1="223.80" y2="223.80" stroke="#fff" stroke-opacity="0.08" stroke-width="0.7"/>
<line x1="460.77" x2="473.27" y1="241.00" y2="241.00" stroke="#fff" stroke-opacity="0.08" stroke-width="0.7"/>
<line x1="427.45" x2="428.65" y1="155.00" y2="155.00" stroke="#444" stroke-width="0.4"/>
<line x1="427.45" x2="428.65" y1="172.20" y2="172.20" stroke="#444" stroke-width="0.4"/>
<line x1="427.45" x2="428.65" y1="189.40" y2="189.40" stroke="#444" stroke-width="0.4"/>
<line x1="427.45" x2="428.65" y1="206.60" y2="206.60" stroke="#444" stroke-width="0.4"/>
<line x1="427.45" x2="428.65" y1="223.80" y2="223.80" stroke="#444" stroke-width="0.4"/>
<line x1="427.45" x2="428.65" y1="241.00" y2="241.00" stroke="#444" stroke-width="0.4"/>
<line x1="427.45" x2="428.65" y1="258.20" y2="258.20" stroke="#444" stroke-width="0.4"/>
<line x1="441.38" x2="441.38" y1="258.20" y2="259.40" stroke="#444" stroke-width="0.4"/>
<line x1="467.02" x2="467.02" y1="258.20" y2="259.40" stroke="#444" stroke-width="0.4"/>
<rect x="428.65" y="155.00" width="51.30" height="103.20" fill="none" stroke="#484848" stroke-width="0.56"/>
<text class="t" x="454.00" y="150.80" textLength="7.90" lengthAdjust="spacingAndGlyphs">PI</text>
<line x1="485.60" x2="536.90" y1="172.20" y2="172.20" stroke="#e7e7e7" stroke-width="0.7"/>
<line x1="485.60" x2="536.90" y1="189.40" y2="189.40" stroke="#e7e7e7" stroke-width="0.7"/>
<line x1="485.60" x2="536.90" y1="206.60" y2="206.60" stroke="#e7e7e7" stroke-width="0.7"/>
<line x1="485.60" x2="536.90" y1="223.80" y2="223.80" stroke="#e7e7e7" stroke-width="0.7"/>
<line x1="485.60" x2="536.90" y1="241.00" y2="241.00" stroke="#e7e7e7" stroke-width="0.7"/>
<rect x="492.27" y="224.70" width="12.10" height="33.50" fill="#f58585" stroke="#ec7a7a" stroke-width="0.4"/>
<rect x="517.93" y="211.45" width="12.10" height="46.75" fill="#b82424" stroke="#a81e1e" stroke-width="0.4"/>
<line x1="517.73" x2="530.23" y1="223.80" y2="223.80" stroke="#fff" stroke-opacity="0.08" stroke-width="0.7"/>
<line x1="517.73" x2="530.23" y1="241.00" y2="241.00" stroke="#fff" stroke-opacity="0.08" stroke-width="0.7"/>
<line x1="484.40" x2="485.60" y1="155.00" y2="155.00" stroke="#444" stroke-width="0.4"/>
<line x1="484.40" x2="485.60" y1="172.20" y2="172.20" stroke="#444" stroke-width="0.4"/>
<line x1="484.40" x2="485.60" y1="189.40" y2="189.40" stroke="#444" stroke-width="0.4"/>
<line x1="484.40" x2="485.60" y1="206.60" y2="206.60" stroke="#444" stroke-width="0.4"/>
<line x1="484.40" x2="485.60" y1="223.80" y2="223.80" stroke="#444" stroke-width="0.4"/>
<line x1="484.40" x2="485.60" y1="241.00" y2="241.00" stroke="#444" stroke-width="0.4"/>
<line x1="484.40" x2="485.60" y1="258.20" y2="258.20" stroke="#444" stroke-width="0.4"/>
<line x1="498.32" x2="498.32" y1="258.20" y2="259.40" stroke="#444" stroke-width="0.4"/>
<line x1="523.98" x2="523.98" y1="258.20" y2="259.40" stroke="#444" stroke-width="0.4"/>
<rect x="485.60" y="155.00" width="51.30" height="103.20" fill="none" stroke="#484848" stroke-width="0.56"/>
<text class="t" x="510.95" y="150.80" textLength="12.30" lengthAdjust="spacingAndGlyphs">PR</text>
<line x1="30.00" x2="81.30" y1="294.62" y2="294.62" stroke="#e7e7e7" stroke-width="0.7"/>
<line x1="30.00" x2="81.30" y1="311.75" y2="311.75" stroke="#e7e7e7" stroke-width="0.7"/>
<line x1="30.00" x2="81.30" y1="328.88" y2="328.88" stroke="#e7e7e7" stroke-width="0.7"/>
<line x1="30.00" x2="81.30" y1="346.00" y2="346.00" stroke="#e7e7e7" stroke-width="0.7"/>
<line x1="30.00" x2="81.30" y1="363.12" y2="363.12" stroke="#e7e7e7" stroke-width="0.7"/>
<rect x="36.68" y="330.95" width="12.10" height="49.30" fill="#f58585" stroke="#ec7a7a" stroke-width="0.4"/>
<rect x="62.33" y="322.20" width="12.10" height="58.05" fill="#b82424" stroke="#a81e1e" stroke-width="0.4"/>
<line x1="62.12" x2="74.62" y1="328.88" y2="328.88" stroke="#fff" stroke-opacity="0.08" stroke-width="0.7"/>
<line x1="62.12" x2="74.62" y1="346.00" y2="346.00" stroke="#fff" stroke-opacity="0.08" stroke-width="0.7"/>
<line x1="62.12" x2="74.62" y1="363.12" y2="363.12" stroke="#fff" stroke-opacity="0.08" stroke-width="0.7"/>
<line x1="28.80" x2="30.00" y1="277.50" y2="277.50" stroke="#444" stroke-width="0.4"/>
<line x1="28.80" x2="30.00" y1="294.62" y2="294.62" stroke="#444" stroke-width="0.4"/>
<line x1="28.80" x2="30.00" y1="311.75" y2="311.75" stroke="#444" stroke-width="0.4"/>
<line x1="28.80" x2="30.00" y1="328.88" y2="328.88" stroke="#444" stroke-width="0.4"/>
<line x1="28.80" x2="30.00" y1="346.00" y2="346.00" stroke="#444" stroke-width="0.4"/>
<line x1="28.80" x2="30.00" y1="363.12" y2="363.12" stroke="#444" stroke-width="0.4"/>
<line x1="28.80" x2="30.00" y1="380.25" y2="380.25" stroke="#444" stroke-width="0.4"/>
<line x1="42.73" x2="42.73" y1="380.25" y2="381.45" stroke="#444" stroke-width="0.4"/>
<line x1="68.38" x2="68.38" y1="380.25" y2="381.45" stroke="#444" stroke-width="0.4"/>
<rect x="30.00" y="277.50" width="51.30" height="102.75" fill="none" stroke="#484848" stroke-width="0.56"/>
<text class="t" x="55.35" y="273.50" textLength="10.30" lengthAdjust="spacingAndGlyphs">RJ</text>
<text class="k" x="27.10" y="279.75">28</text>
<text class="k" x="27.10" y="296.88">26</text>
<text class="k" x="27.10" y="314.00">24</text>
<text class="k" x="27.10" y="331.12">22</text>
<text class="k" x="27.10" y="348.25">20</text>
<text class="k" x="27.10" y="365.38">18</text>
<text class="k" x="27.10" y="382.50">16</text>
<text class="x" x="43.62" y="392.65" textLength="17.6" lengthAdjust="spacingAndGlyphs">Média</text>
<text class="x" x="67.97" y="392.55" textLength="14.6" lengthAdjust="spacingAndGlyphs">2024</text>
<line x1="86.95" x2="138.25" y1="294.62" y2="294.62" stroke="#e7e7e7" stroke-width="0.7"/>
<line x1="86.95" x2="138.25" y1="311.75" y2="311.75" stroke="#e7e7e7" stroke-width="0.7"/>
<line x1="86.95" x2="138.25" y1="328.88" y2="328.88" stroke="#e7e7e7" stroke-width="0.7"/>
<line x1="86.95" x2="138.25" y1="346.00" y2="346.00" stroke="#e7e7e7" stroke-width="0.7"/>
<line x1="86.95" x2="138.25" y1="363.12" y2="363.12" stroke="#e7e7e7" stroke-width="0.7"/>
<rect x="93.63" y="288.45" width="12.10" height="91.80" fill="#f58585" stroke="#ec7a7a" stroke-width="0.4"/>
<rect x="119.28" y="285.70" width="12.10" height="94.55" fill="#b82424" stroke="#a81e1e" stroke-width="0.4"/>
<line x1="119.08" x2="131.57" y1="294.62" y2="294.62" stroke="#fff" stroke-opacity="0.08" stroke-width="0.7"/>
<line x1="119.08" x2="131.57" y1="311.75" y2="311.75" stroke="#fff" stroke-opacity="0.08" stroke-width="0.7"/>
<line x1="119.08" x2="131.57" y1="328.88" y2="328.88" stroke="#fff" stroke-opacity="0.08" stroke-width="0.7"/>
<line x1="119.08" x2="131.57" y1="346.00" y2="346.00" stroke="#fff" stroke-opacity="0.08" stroke-width="0.7"/>
<line x1="119.08" x2="131.57" y1="363.12" y2="363.12" stroke="#fff" stroke-opacity="0.08" stroke-width="0.7"/>
<line x1="85.75" x2="86.95" y1="277.50" y2="277.50" stroke="#444" stroke-width="0.4"/>
<line x1="85.75" x2="86.95" y1="294.62" y2="294.62" stroke="#444" stroke-width="0.4"/>
<line x1="85.75" x2="86.95" y1="311.75" y2="311.75" stroke="#444" stroke-width="0.4"/>
<line x1="85.75" x2="86.95" y1="328.88" y2="328.88" stroke="#444" stroke-width="0.4"/>
<line x1="85.75" x2="86.95" y1="346.00" y2="346.00" stroke="#444" stroke-width="0.4"/>
<line x1="85.75" x2="86.95" y1="363.12" y2="363.12" stroke="#444" stroke-width="0.4"/>
<line x1="85.75" x2="86.95" y1="380.25" y2="380.25" stroke="#444" stroke-width="0.4"/>
<line x1="99.68" x2="99.68" y1="380.25" y2="381.45" stroke="#444" stroke-width="0.4"/>
<line x1="125.33" x2="125.33" y1="380.25" y2="381.45" stroke="#444" stroke-width="0.4"/>
<rect x="86.95" y="277.50" width="51.30" height="102.75" fill="none" stroke="#484848" stroke-width="0.56"/>
<text class="t" x="112.30" y="273.50" textLength="12.05" lengthAdjust="spacingAndGlyphs">RN</text>
<text class="x" x="100.58" y="392.65" textLength="17.6" lengthAdjust="spacingAndGlyphs">Média</text>
<text class="x" x="124.92" y="392.55" textLength="14.6" lengthAdjust="spacingAndGlyphs">2024</text>
<line x1="143.90" x2="195.20" y1="294.62" y2="294.62" stroke="#e7e7e7" stroke-width="0.7"/>
<line x1="143.90" x2="195.20" y1="311.75" y2="311.75" stroke="#e7e7e7" stroke-width="0.7"/>
<line x1="143.90" x2="195.20" y1="328.88" y2="328.88" stroke="#e7e7e7" stroke-width="0.7"/>
<line x1="143.90" x2="195.20" y1="346.00" y2="346.00" stroke="#e7e7e7" stroke-width="0.7"/>
<line x1="143.90" x2="195.20" y1="363.12" y2="363.12" stroke="#e7e7e7" stroke-width="0.7"/>
<rect x="150.57" y="299.45" width="12.10" height="80.80" fill="#f58585" stroke="#ec7a7a" stroke-width="0.4"/>
<rect x="176.22" y="287.70" width="12.10" height="92.55" fill="#b82424" stroke="#a81e1e" stroke-width="0.4"/>
<line x1="176.03" x2="188.53" y1="294.62" y2="294.62" stroke="#fff" stroke-opacity="0.08" stroke-width="0.7"/>
<line x1="176.03" x2="188.53" y1="311.75" y2="311.75" stroke="#fff" stroke-opacity="0.08" stroke-width="0.7"/>
<line x1="176.03" x2="188.53" y1="328.88" y2="328.88" stroke="#fff" stroke-opacity="0.08" stroke-width="0.7"/>
<line x1="176.03" x2="188.53" y1="346.00" y2="346.00" stroke="#fff" stroke-opacity="0.08" stroke-width="0.7"/>
<line x1="176.03" x2="188.53" y1="363.12" y2="363.12" stroke="#fff" stroke-opacity="0.08" stroke-width="0.7"/>
<line x1="142.70" x2="143.90" y1="277.50" y2="277.50" stroke="#444" stroke-width="0.4"/>
<line x1="142.70" x2="143.90" y1="294.62" y2="294.62" stroke="#444" stroke-width="0.4"/>
<line x1="142.70" x2="143.90" y1="311.75" y2="311.75" stroke="#444" stroke-width="0.4"/>
<line x1="142.70" x2="143.90" y1="328.88" y2="328.88" stroke="#444" stroke-width="0.4"/>
<line x1="142.70" x2="143.90" y1="346.00" y2="346.00" stroke="#444" stroke-width="0.4"/>
<line x1="142.70" x2="143.90" y1="363.12" y2="363.12" stroke="#444" stroke-width="0.4"/>
<line x1="142.70" x2="143.90" y1="380.25" y2="380.25" stroke="#444" stroke-width="0.4"/>
<line x1="156.62" x2="156.62" y1="380.25" y2="381.45" stroke="#444" stroke-width="0.4"/>
<line x1="182.28" x2="182.28" y1="380.25" y2="381.45" stroke="#444" stroke-width="0.4"/>
<rect x="143.90" y="277.50" width="51.30" height="102.75" fill="none" stroke="#484848" stroke-width="0.56"/>
<text class="t" x="169.25" y="273.50" textLength="12.80" lengthAdjust="spacingAndGlyphs">RO</text>
<text class="x" x="157.53" y="392.65" textLength="17.6" lengthAdjust="spacingAndGlyphs">Média</text>
<text class="x" x="181.88" y="392.55" textLength="14.6" lengthAdjust="spacingAndGlyphs">2024</text>
<line x1="200.85" x2="252.15" y1="294.62" y2="294.62" stroke="#e7e7e7" stroke-width="0.7"/>
<line x1="200.85" x2="252.15" y1="311.75" y2="311.75" stroke="#e7e7e7" stroke-width="0.7"/>
<line x1="200.85" x2="252.15" y1="328.88" y2="328.88" stroke="#e7e7e7" stroke-width="0.7"/>
<line x1="200.85" x2="252.15" y1="346.00" y2="346.00" stroke="#e7e7e7" stroke-width="0.7"/>
<line x1="200.85" x2="252.15" y1="363.12" y2="363.12" stroke="#e7e7e7" stroke-width="0.7"/>
<rect x="207.53" y="301.70" width="12.10" height="78.55" fill="#f58585" stroke="#ec7a7a" stroke-width="0.4"/>
<rect x="233.18" y="284.70" width="12.10" height="95.55" fill="#b82424" stroke="#a81e1e" stroke-width="0.4"/>
<line x1="232.98" x2="245.48" y1="294.62" y2="294.62" stroke="#fff" stroke-opacity="0.08" stroke-width="0.7"/>
<line x1="232.98" x2="245.48" y1="311.75" y2="311.75" stroke="#fff" stroke-opacity="0.08" stroke-width="0.7"/>
<line x1="232.98" x2="245.48" y1="328.88" y2="328.88" stroke="#fff" stroke-opacity="0.08" stroke-width="0.7"/>
<line x1="232.98" x2="245.48" y1="346.00" y2="346.00" stroke="#fff" stroke-opacity="0.08" stroke-width="0.7"/>
<line x1="232.98" x2="245.48" y1="363.12" y2="363.12" stroke="#fff" stroke-opacity="0.08" stroke-width="0.7"/>
<line x1="199.65" x2="200.85" y1="277.50" y2="277.50" stroke="#444" stroke-width="0.4"/>
<line x1="199.65" x2="200.85" y1="294.62" y2="294.62" stroke="#444" stroke-width="0.4"/>
<line x1="199.65" x2="200.85" y1="311.75" y2="311.75" stroke="#444" stroke-width="0.4"/>
<line x1="199.65" x2="200.85" y1="328.88" y2="328.88" stroke="#444" stroke-width="0.4"/>
<line x1="199.65" x2="200.85" y1="346.00" y2="346.00" stroke="#444" stroke-width="0.4"/>
<line x1="199.65" x2="200.85" y1="363.12" y2="363.12" stroke="#444" stroke-width="0.4"/>
<line x1="199.65" x2="200.85" y1="380.25" y2="380.25" stroke="#444" stroke-width="0.4"/>
<line x1="213.58" x2="213.58" y1="380.25" y2="381.45" stroke="#444" stroke-width="0.4"/>
<line x1="239.23" x2="239.23" y1="380.25" y2="381.45" stroke="#444" stroke-width="0.4"/>
<rect x="200.85" y="277.50" width="51.30" height="102.75" fill="none" stroke="#484848" stroke-width="0.56"/>
<text class="t" x="226.20" y="273.50" textLength="12.30" lengthAdjust="spacingAndGlyphs">RR</text>
<text class="x" x="214.48" y="392.65" textLength="17.6" lengthAdjust="spacingAndGlyphs">Média</text>
<text class="x" x="238.83" y="392.55" textLength="14.6" lengthAdjust="spacingAndGlyphs">2024</text>
<line x1="257.80" x2="309.10" y1="294.62" y2="294.62" stroke="#e7e7e7" stroke-width="0.7"/>
<line x1="257.80" x2="309.10" y1="311.75" y2="311.75" stroke="#e7e7e7" stroke-width="0.7"/>
<line x1="257.80" x2="309.10" y1="328.88" y2="328.88" stroke="#e7e7e7" stroke-width="0.7"/>
<line x1="257.80" x2="309.10" y1="346.00" y2="346.00" stroke="#e7e7e7" stroke-width="0.7"/>
<line x1="257.80" x2="309.10" y1="363.12" y2="363.12" stroke="#e7e7e7" stroke-width="0.7"/>
<rect x="264.47" y="359.20" width="12.10" height="21.05" fill="#f58585" stroke="#ec7a7a" stroke-width="0.4"/>
<rect x="290.12" y="352.95" width="12.10" height="27.30" fill="#b82424" stroke="#a81e1e" stroke-width="0.4"/>
<line x1="289.92" x2="302.42" y1="363.12" y2="363.12" stroke="#fff" stroke-opacity="0.08" stroke-width="0.7"/>
<line x1="256.60" x2="257.80" y1="277.50" y2="277.50" stroke="#444" stroke-width="0.4"/>
<line x1="256.60" x2="257.80" y1="294.62" y2="294.62" stroke="#444" stroke-width="0.4"/>
<line x1="256.60" x2="257.80" y1="311.75" y2="311.75" stroke="#444" stroke-width="0.4"/>
<line x1="256.60" x2="257.80" y1="328.88" y2="328.88" stroke="#444" stroke-width="0.4"/>
<line x1="256.60" x2="257.80" y1="346.00" y2="346.00" stroke="#444" stroke-width="0.4"/>
<line x1="256.60" x2="257.80" y1="363.12" y2="363.12" stroke="#444" stroke-width="0.4"/>
<line x1="256.60" x2="257.80" y1="380.25" y2="380.25" stroke="#444" stroke-width="0.4"/>
<line x1="270.52" x2="270.52" y1="380.25" y2="381.45" stroke="#444" stroke-width="0.4"/>
<line x1="296.17" x2="296.17" y1="380.25" y2="381.45" stroke="#444" stroke-width="0.4"/>
<rect x="257.80" y="277.50" width="51.30" height="102.75" fill="none" stroke="#484848" stroke-width="0.56"/>
<text class="t" x="283.15" y="273.50" textLength="11.55" lengthAdjust="spacingAndGlyphs">RS</text>
<text class="x" x="271.42" y="392.65" textLength="17.6" lengthAdjust="spacingAndGlyphs">Média</text>
<text class="x" x="295.77" y="392.55" textLength="14.6" lengthAdjust="spacingAndGlyphs">2024</text>
<line x1="314.75" x2="366.05" y1="294.62" y2="294.62" stroke="#e7e7e7" stroke-width="0.7"/>
<line x1="314.75" x2="366.05" y1="311.75" y2="311.75" stroke="#e7e7e7" stroke-width="0.7"/>
<line x1="314.75" x2="366.05" y1="328.88" y2="328.88" stroke="#e7e7e7" stroke-width="0.7"/>
<line x1="314.75" x2="366.05" y1="346.00" y2="346.00" stroke="#e7e7e7" stroke-width="0.7"/>
<line x1="314.75" x2="366.05" y1="363.12" y2="363.12" stroke="#e7e7e7" stroke-width="0.7"/>
<rect x="321.42" y="366.70" width="12.10" height="13.55" fill="#f58585" stroke="#ec7a7a" stroke-width="0.4"/>
<rect x="347.07" y="357.70" width="12.10" height="22.55" fill="#b82424" stroke="#a81e1e" stroke-width="0.4"/>
<line x1="346.88" x2="359.38" y1="363.12" y2="363.12" stroke="#fff" stroke-opacity="0.08" stroke-width="0.7"/>
<line x1="313.55" x2="314.75" y1="277.50" y2="277.50" stroke="#444" stroke-width="0.4"/>
<line x1="313.55" x2="314.75" y1="294.62" y2="294.62" stroke="#444" stroke-width="0.4"/>
<line x1="313.55" x2="314.75" y1="311.75" y2="311.75" stroke="#444" stroke-width="0.4"/>
<line x1="313.55" x2="314.75" y1="328.88" y2="328.88" stroke="#444" stroke-width="0.4"/>
<line x1="313.55" x2="314.75" y1="346.00" y2="346.00" stroke="#444" stroke-width="0.4"/>
<line x1="313.55" x2="314.75" y1="363.12" y2="363.12" stroke="#444" stroke-width="0.4"/>
<line x1="313.55" x2="314.75" y1="380.25" y2="380.25" stroke="#444" stroke-width="0.4"/>
<line x1="327.47" x2="327.47" y1="380.25" y2="381.45" stroke="#444" stroke-width="0.4"/>
<line x1="353.12" x2="353.12" y1="380.25" y2="381.45" stroke="#444" stroke-width="0.4"/>
<rect x="314.75" y="277.50" width="51.30" height="102.75" fill="none" stroke="#484848" stroke-width="0.56"/>
<text class="t" x="340.10" y="273.50" textLength="11.80" lengthAdjust="spacingAndGlyphs">SC</text>
<text class="x" x="328.37" y="392.65" textLength="17.6" lengthAdjust="spacingAndGlyphs">Média</text>
<text class="x" x="352.73" y="392.55" textLength="14.6" lengthAdjust="spacingAndGlyphs">2024</text>
<line x1="371.70" x2="423.00" y1="294.62" y2="294.62" stroke="#e7e7e7" stroke-width="0.7"/>
<line x1="371.70" x2="423.00" y1="311.75" y2="311.75" stroke="#e7e7e7" stroke-width="0.7"/>
<line x1="371.70" x2="423.00" y1="328.88" y2="328.88" stroke="#e7e7e7" stroke-width="0.7"/>
<line x1="371.70" x2="423.00" y1="346.00" y2="346.00" stroke="#e7e7e7" stroke-width="0.7"/>
<line x1="371.70" x2="423.00" y1="363.12" y2="363.12" stroke="#e7e7e7" stroke-width="0.7"/>
<rect x="378.38" y="303.20" width="12.10" height="77.05" fill="#f58585" stroke="#ec7a7a" stroke-width="0.4"/>
<rect x="404.03" y="296.95" width="12.10" height="83.30" fill="#b82424" stroke="#a81e1e" stroke-width="0.4"/>
<line x1="403.83" x2="416.33" y1="311.75" y2="311.75" stroke="#fff" stroke-opacity="0.08" stroke-width="0.7"/>
<line x1="403.83" x2="416.33" y1="328.88" y2="328.88" stroke="#fff" stroke-opacity="0.08" stroke-width="0.7"/>
<line x1="403.83" x2="416.33" y1="346.00" y2="346.00" stroke="#fff" stroke-opacity="0.08" stroke-width="0.7"/>
<line x1="403.83" x2="416.33" y1="363.12" y2="363.12" stroke="#fff" stroke-opacity="0.08" stroke-width="0.7"/>
<line x1="370.50" x2="371.70" y1="277.50" y2="277.50" stroke="#444" stroke-width="0.4"/>
<line x1="370.50" x2="371.70" y1="294.62" y2="294.62" stroke="#444" stroke-width="0.4"/>
<line x1="370.50" x2="371.70" y1="311.75" y2="311.75" stroke="#444" stroke-width="0.4"/>
<line x1="370.50" x2="371.70" y1="328.88" y2="328.88" stroke="#444" stroke-width="0.4"/>
<line x1="370.50" x2="371.70" y1="346.00" y2="346.00" stroke="#444" stroke-width="0.4"/>
<line x1="370.50" x2="371.70" y1="363.12" y2="363.12" stroke="#444" stroke-width="0.4"/>
<line x1="370.50" x2="371.70" y1="380.25" y2="380.25" stroke="#444" stroke-width="0.4"/>
<line x1="384.43" x2="384.43" y1="380.25" y2="381.45" stroke="#444" stroke-width="0.4"/>
<line x1="410.08" x2="410.08" y1="380.25" y2="381.45" stroke="#444" stroke-width="0.4"/>
<rect x="371.70" y="277.50" width="51.30" height="102.75" fill="none" stroke="#484848" stroke-width="0.56"/>
<text class="t" x="397.05" y="273.50" textLength="10.80" lengthAdjust="spacingAndGlyphs">SE</text>
<text class="x" x="385.32" y="392.65" textLength="17.6" lengthAdjust="spacingAndGlyphs">Média</text>
<text class="x" x="409.68" y="392.55" textLength="14.6" lengthAdjust="spacingAndGlyphs">2024</text>
<line x1="428.65" x2="479.95" y1="294.62" y2="294.62" stroke="#e7e7e7" stroke-width="0.7"/>
<line x1="428.65" x2="479.95" y1="311.75" y2="311.75" stroke="#e7e7e7" stroke-width="0.7"/>
<line x1="428.65" x2="479.95" y1="328.88" y2="328.88" stroke="#e7e7e7" stroke-width="0.7"/>
<line x1="428.65" x2="479.95" y1="346.00" y2="346.00" stroke="#e7e7e7" stroke-width="0.7"/>
<line x1="428.65" x2="479.95" y1="363.12" y2="363.12" stroke="#e7e7e7" stroke-width="0.7"/>
<rect x="435.32" y="330.20" width="12.10" height="50.05" fill="#f58585" stroke="#ec7a7a" stroke-width="0.4"/>
<rect x="460.97" y="317.20" width="12.10" height="63.05" fill="#b82424" stroke="#a81e1e" stroke-width="0.4"/>
<line x1="460.77" x2="473.27" y1="328.88" y2="328.88" stroke="#fff" stroke-opacity="0.08" stroke-width="0.7"/>
<line x1="460.77" x2="473.27" y1="346.00" y2="346.00" stroke="#fff" stroke-opacity="0.08" stroke-width="0.7"/>
<line x1="460.77" x2="473.27" y1="363.12" y2="363.12" stroke="#fff" stroke-opacity="0.08" stroke-width="0.7"/>
<line x1="427.45" x2="428.65" y1="277.50" y2="277.50" stroke="#444" stroke-width="0.4"/>
<line x1="427.45" x2="428.65" y1="294.62" y2="294.62" stroke="#444" stroke-width="0.4"/>
<line x1="427.45" x2="428.65" y1="311.75" y2="311.75" stroke="#444" stroke-width="0.4"/>
<line x1="427.45" x2="428.65" y1="328.88" y2="328.88" stroke="#444" stroke-width="0.4"/>
<line x1="427.45" x2="428.65" y1="346.00" y2="346.00" stroke="#444" stroke-width="0.4"/>
<line x1="427.45" x2="428.65" y1="363.12" y2="363.12" stroke="#444" stroke-width="0.4"/>
<line x1="427.45" x2="428.65" y1="380.25" y2="380.25" stroke="#444" stroke-width="0.4"/>
<line x1="441.38" x2="441.38" y1="380.25" y2="381.45" stroke="#444" stroke-width="0.4"/>
<line x1="467.02" x2="467.02" y1="380.25" y2="381.45" stroke="#444" stroke-width="0.4"/>
<rect x="428.65" y="277.50" width="51.30" height="102.75" fill="none" stroke="#484848" stroke-width="0.56"/>
<text class="t" x="454.00" y="273.50" textLength="11.55" lengthAdjust="spacingAndGlyphs">SP</text>
<text class="x" x="442.27" y="392.65" textLength="17.6" lengthAdjust="spacingAndGlyphs">Média</text>
<text class="x" x="466.62" y="392.55" textLength="14.6" lengthAdjust="spacingAndGlyphs">2024</text>
<line x1="485.60" x2="536.90" y1="294.62" y2="294.62" stroke="#e7e7e7" stroke-width="0.7"/>
<line x1="485.60" x2="536.90" y1="311.75" y2="311.75" stroke="#e7e7e7" stroke-width="0.7"/>
<line x1="485.60" x2="536.90" y1="328.88" y2="328.88" stroke="#e7e7e7" stroke-width="0.7"/>
<line x1="485.60" x2="536.90" y1="346.00" y2="346.00" stroke="#e7e7e7" stroke-width="0.7"/>
<line x1="485.60" x2="536.90" y1="363.12" y2="363.12" stroke="#e7e7e7" stroke-width="0.7"/>
<rect x="492.27" y="290.20" width="12.10" height="90.05" fill="#f58585" stroke="#ec7a7a" stroke-width="0.4"/>
<rect x="517.93" y="282.70" width="12.10" height="97.55" fill="#b82424" stroke="#a81e1e" stroke-width="0.4"/>
<line x1="517.73" x2="530.23" y1="294.62" y2="294.62" stroke="#fff" stroke-opacity="0.08" stroke-width="0.7"/>
<line x1="517.73" x2="530.23" y1="311.75" y2="311.75" stroke="#fff" stroke-opacity="0.08" stroke-width="0.7"/>
<line x1="517.73" x2="530.23" y1="328.88" y2="328.88" stroke="#fff" stroke-opacity="0.08" stroke-width="0.7"/>
<line x1="517.73" x2="530.23" y1="346.00" y2="346.00" stroke="#fff" stroke-opacity="0.08" stroke-width="0.7"/>
<line x1="517.73" x2="530.23" y1="363.12" y2="363.12" stroke="#fff" stroke-opacity="0.08" stroke-width="0.7"/>
<line x1="484.40" x2="485.60" y1="277.50" y2="277.50" stroke="#444" stroke-width="0.4"/>
<line x1="484.40" x2="485.60" y1="294.62" y2="294.62" stroke="#444" stroke-width="0.4"/>
<line x1="484.40" x2="485.60" y1="311.75" y2="311.75" stroke="#444" stroke-width="0.4"/>
<line x1="484.40" x2="485.60" y1="328.88" y2="328.88" stroke="#444" stroke-width="0.4"/>
<line x1="484.40" x2="485.60" y1="346.00" y2="346.00" stroke="#444" stroke-width="0.4"/>
<line x1="484.40" x2="485.60" y1="363.12" y2="363.12" stroke="#444" stroke-width="0.4"/>
<line x1="484.40" x2="485.60" y1="380.25" y2="380.25" stroke="#444" stroke-width="0.4"/>
<line x1="498.32" x2="498.32" y1="380.25" y2="381.45" stroke="#444" stroke-width="0.4"/>
<line x1="523.98" x2="523.98" y1="380.25" y2="381.45" stroke="#444" stroke-width="0.4"/>
<rect x="485.60" y="277.50" width="51.30" height="102.75" fill="none" stroke="#484848" stroke-width="0.56"/>
<text class="t" x="510.95" y="273.50" textLength="12.05" lengthAdjust="spacingAndGlyphs">TO</text>
<text class="x" x="499.22" y="392.65" textLength="17.6" lengthAdjust="spacingAndGlyphs">Média</text>
<text class="x" x="523.58" y="392.55" textLength="14.6" lengthAdjust="spacingAndGlyphs">2024</text>
</g></svg></body></html>
